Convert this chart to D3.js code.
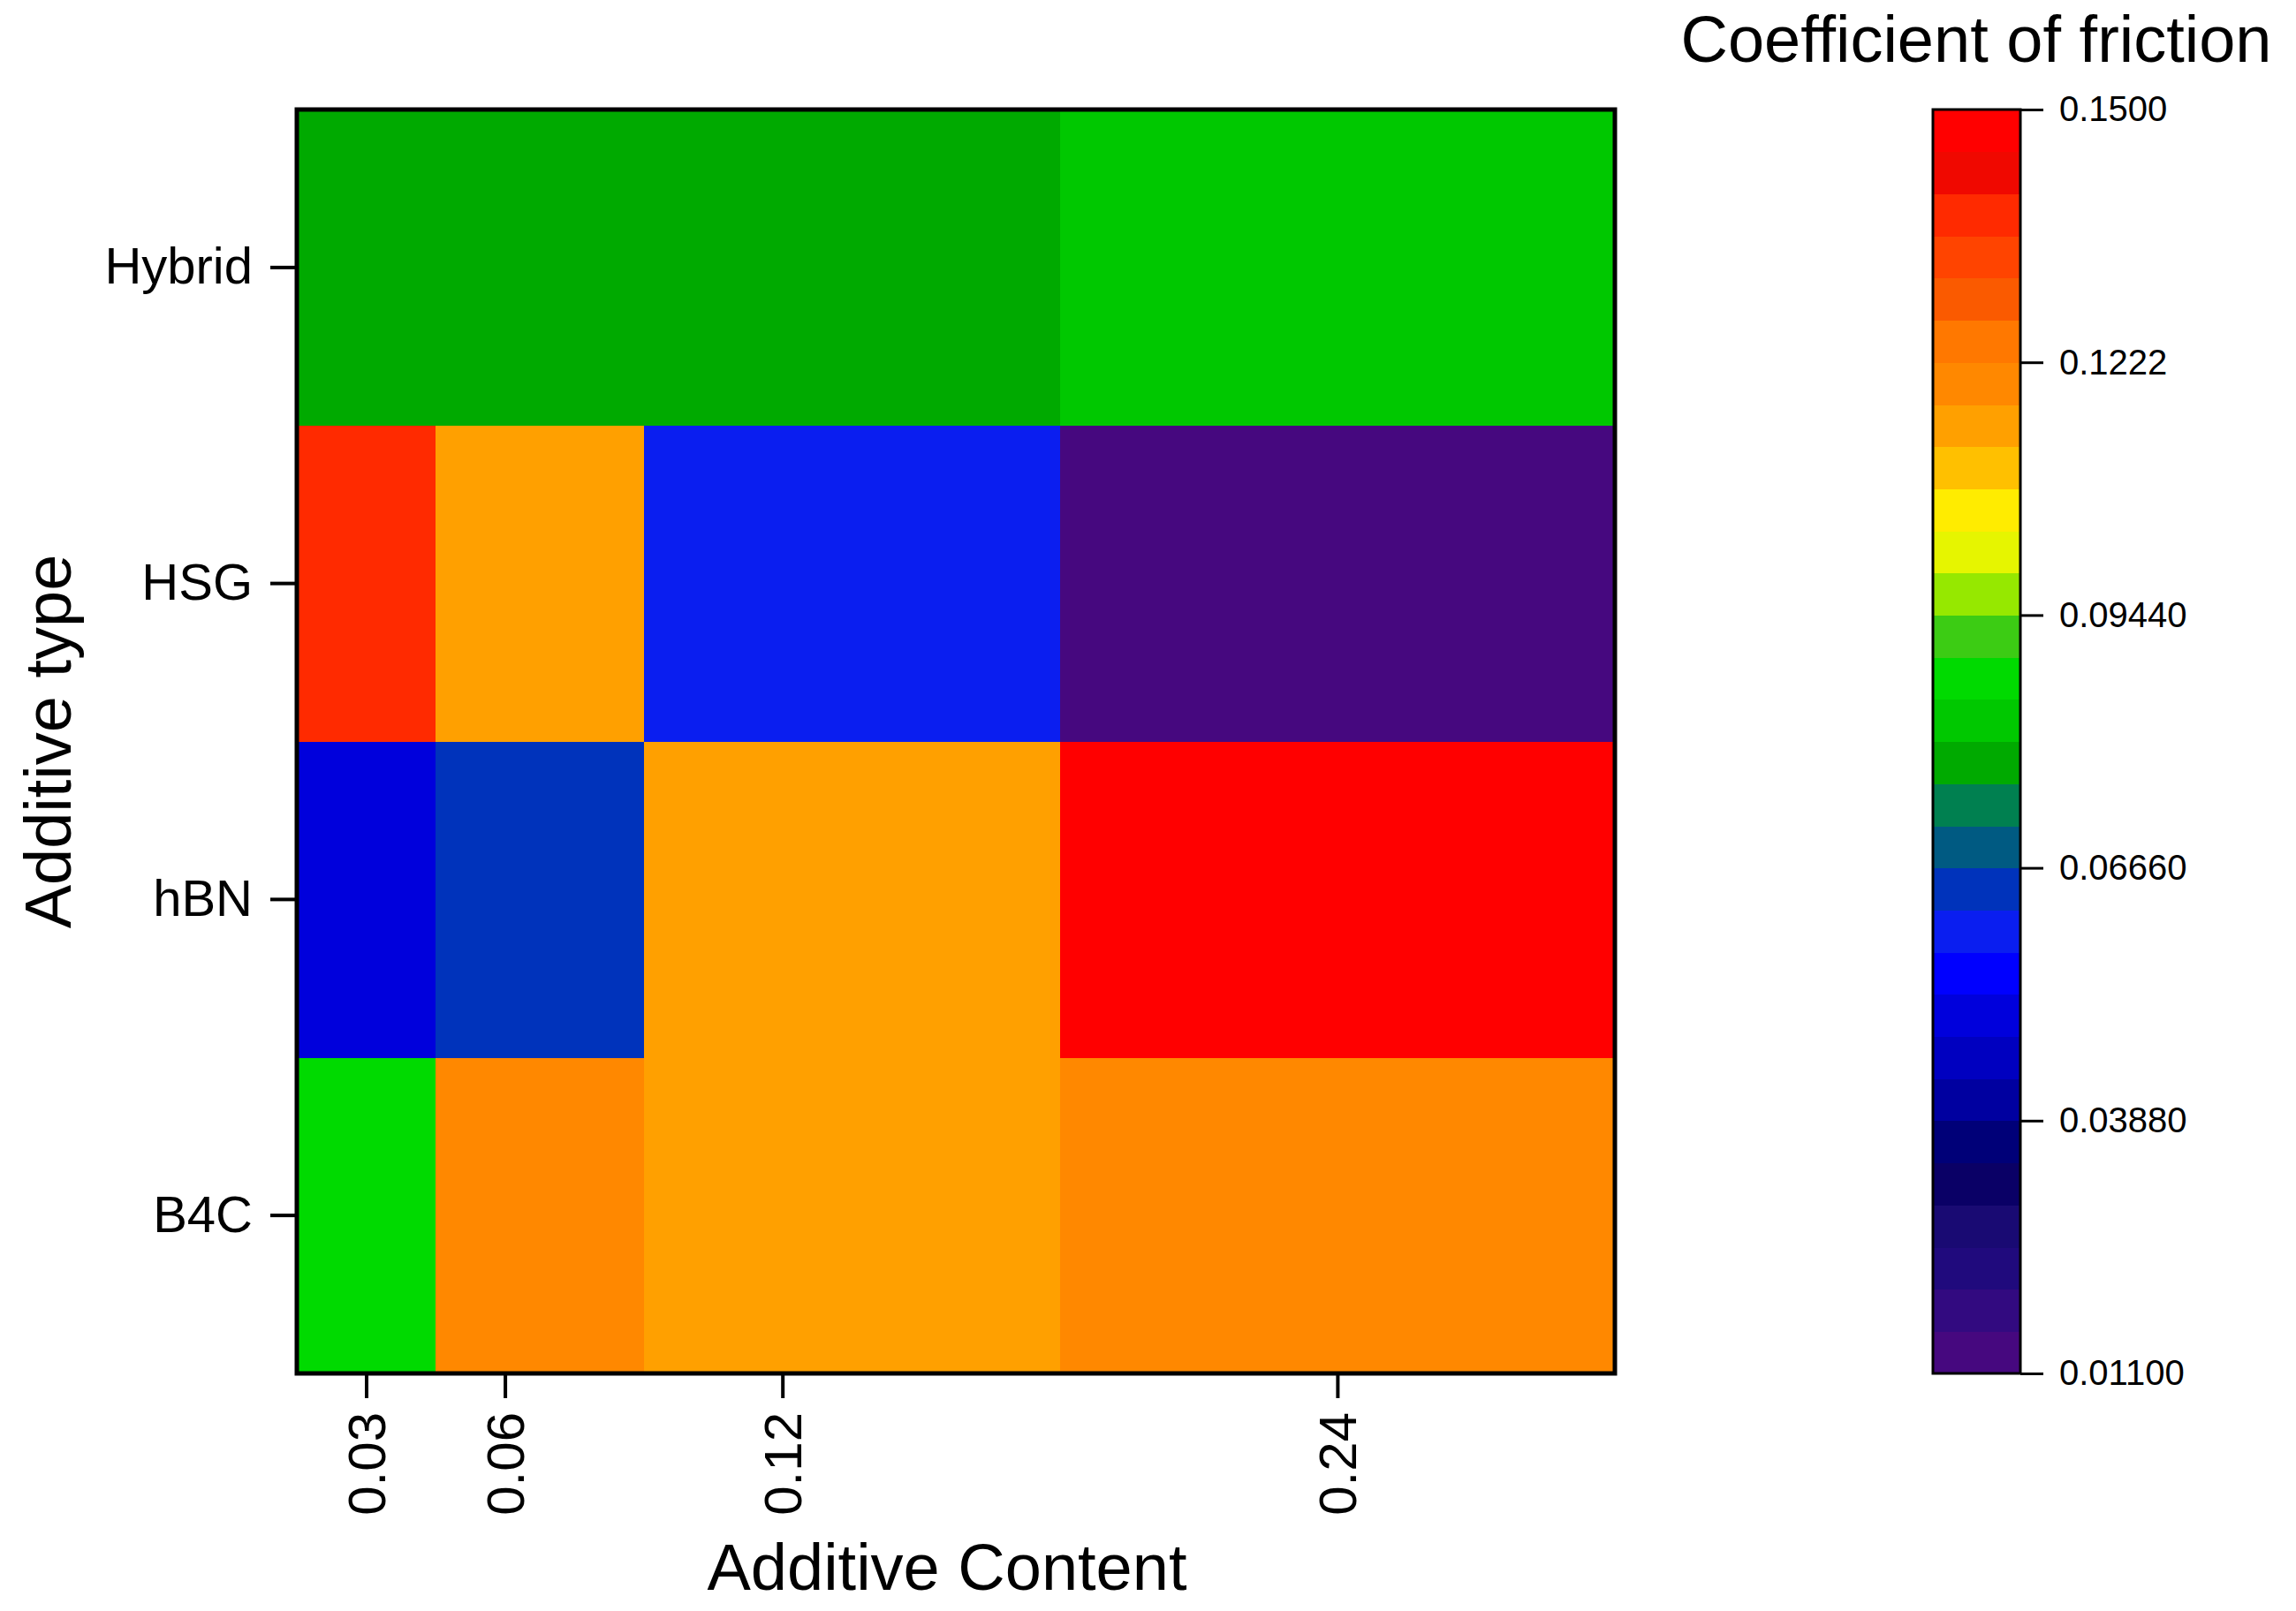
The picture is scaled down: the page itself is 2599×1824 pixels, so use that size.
<!DOCTYPE html>
<html>
<head>
<meta charset="utf-8">
<script src="https://cdn.jsdelivr.net/npm/d3@7/dist/d3.min.js"></script>
<style>
html,body{margin:0;padding:0;background:#fff;}
text{font-family:"Liberation Sans",Arial,sans-serif;fill:#000;}
</style>
</head>
<body>
<svg id="chart" width="2599" height="1824"></svg>
<script>
// ---- data ----
const categories = ["B4C", "hBN", "HSG", "Hybrid"];
const contents = [0.03, 0.06, 0.12, 0.24];
const contentLabels = ["0.03", "0.06", "0.12", "0.24"];
const b4c    = [0.087, 0.120, 0.115, 0.120];
const hbn    = [0.050, 0.064, 0.115, 0.150];
const hsg    = [0.138, 0.115, 0.060, 0.011];
const hybrid = [0.078, 0.078, 0.078, 0.083];
const seriesValues = [b4c, hbn, hsg, hybrid];
const cbTicks = [0.011, 0.0388, 0.0666, 0.0944, 0.1222, 0.15];
const cbTickLabels = ["0.01100", "0.03880", "0.06660", "0.09440", "0.1222", "0.1500"];
// 30 colour levels, from highest (top) to lowest (bottom)
const levelColorsHighToLow = [
  "#ff0000","#f00800","#ff2a00","#ff4400","#fa5a00","#ff7800",
  "#ff8800","#ffa000","#ffc000","#ffec00","#e6f500","#96e800",
  "#3ccc14","#00da00","#00c800","#00aa00","#008050","#005a82",
  "#0033bb","#0a1ef0","#0000ff","#0000dc","#0000c0","#0000a0",
  "#000078","#0a0066","#190a73","#200a7d","#320a80","#46087f"
];
const cbTitle = "Coefficient of friction";
const xTitle = "Additive Content";
const yTitle = "Additive type";

// ---- layout ----
const svg = d3.select("#chart");
const plot = {left: 336, right: 1828, top: 124, bottom: 1555};
const cb = {left: 2188, right: 2287, top: 124, bottom: 1555};

// cell edges (midpoints between content levels)
const edges = [contents[0] - (contents[1] - contents[0]) / 2];
for (let i = 0; i < contents.length - 1; i++) edges.push((contents[i] + contents[i + 1]) / 2);
edges.push(contents[contents.length - 1] + (contents[contents.length - 1] - contents[contents.length - 2]) / 2);

const x = d3.scaleLinear().domain([edges[0], edges[edges.length - 1]]).range([plot.left, plot.right]);
const y = d3.scaleBand().domain(categories).range([plot.bottom, plot.top]).padding(0);

const vmin = cbTicks[0], vmax = cbTicks[cbTicks.length - 1];
const levels = levelColorsHighToLow.slice().reverse();
const color = d3.scaleQuantize().domain([vmin, vmax]).range(levels);

const cells = [];
categories.forEach((c, ci) => {
  contents.forEach((v, vi) => {
    cells.push({cat: c, x0: edges[vi], x1: edges[vi + 1], value: seriesValues[ci][vi]});
  });
});

svg.append("g").selectAll("rect").data(cells).join("rect")
  .attr("x", d => x(d.x0))
  .attr("y", d => y(d.cat))
  .attr("width", d => x(d.x1) - x(d.x0) + 0.5)
  .attr("height", y.bandwidth() + 0.5)
  .attr("fill", d => color(d.value))
  .attr("shape-rendering", "crispEdges");

// frame
svg.append("rect")
  .attr("x", plot.left).attr("y", plot.top)
  .attr("width", plot.right - plot.left).attr("height", plot.bottom - plot.top)
  .attr("fill", "none").attr("stroke", "#000").attr("stroke-width", 5);

// x axis
const xAxis = d3.axisBottom(x).tickValues(contents).tickFormat((d, i) => contentLabels[i])
  .tickSize(26).tickPadding(18);
const gx = svg.append("g").attr("transform", `translate(0,${plot.bottom + 2})`).call(xAxis);
gx.select(".domain").remove();
gx.selectAll(".tick line").attr("stroke", "#000").attr("stroke-width", 4);
gx.selectAll(".tick text")
  .attr("font-size", 60)
  .attr("transform", "rotate(-90)")
  .attr("x", -42).attr("y", 0).attr("dy", "0.35em")
  .attr("text-anchor", "end");

// y axis
const yAxis = d3.axisLeft(y).tickSize(28).tickPadding(20);
const gy = svg.append("g").attr("transform", `translate(${plot.left - 2},0)`).call(yAxis);
gy.select(".domain").remove();
gy.selectAll(".tick line").attr("stroke", "#000").attr("stroke-width", 4);
gy.selectAll(".tick text").attr("font-size", 58);

// axis titles
svg.append("text").attr("x", (plot.left + plot.right) / 2 - 10).attr("y", 1800)
  .attr("text-anchor", "middle").attr("font-size", 74).text(xTitle);
svg.append("text").attr("transform", `translate(80,${(plot.top + plot.bottom) / 2}) rotate(-90)`)
  .attr("text-anchor", "middle").attr("font-size", 74).text(yTitle);

// colour bar
const cy = d3.scaleLinear().domain([vmin, vmax]).range([cb.bottom, cb.top]);
const step = (vmax - vmin) / levels.length;
svg.append("g").selectAll("rect").data(levels).join("rect")
  .attr("x", cb.left)
  .attr("y", (d, i) => cy(vmin + (i + 1) * step))
  .attr("width", cb.right - cb.left)
  .attr("height", (d, i) => cy(vmin + i * step) - cy(vmin + (i + 1) * step) + 0.6)
  .attr("fill", d => d)
  .attr("shape-rendering", "crispEdges");
svg.append("rect")
  .attr("x", cb.left).attr("y", cb.top)
  .attr("width", cb.right - cb.left).attr("height", cb.bottom - cb.top)
  .attr("fill", "none").attr("stroke", "#000").attr("stroke-width", 3);

const cbAxis = d3.axisRight(cy).tickValues(cbTicks).tickFormat((d, i) => cbTickLabels[i])
  .tickSize(26).tickPadding(18);
const gc = svg.append("g").attr("transform", `translate(${cb.right},0)`).call(cbAxis);
gc.select(".domain").remove();
gc.selectAll(".tick line").attr("stroke", "#000").attr("stroke-width", 3);
gc.selectAll(".tick text").attr("font-size", 40);

svg.append("text").attr("x", 2237).attr("y", 70)
  .attr("text-anchor", "middle").attr("font-size", 74).text(cbTitle);
</script>
</body>
</html>
